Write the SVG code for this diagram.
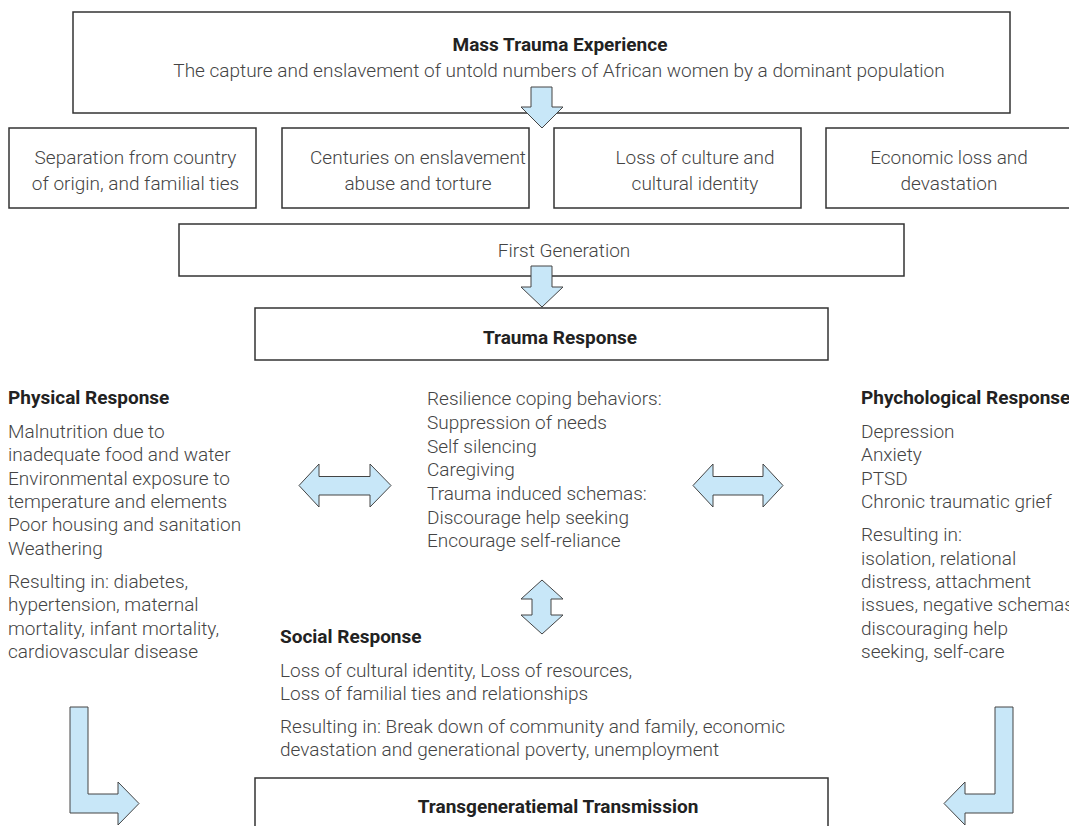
<svg xmlns="http://www.w3.org/2000/svg" width="1069" height="826" viewBox="0 0 1069 826">
<style>
.box{fill:#fff;stroke:#333;stroke-width:1.5}
.t{font-family:Roboto,"Liberation Sans",sans-serif;font-weight:300;font-size:19px;fill:#444}
.b{font-family:Roboto,"Liberation Sans",sans-serif;font-weight:700;font-size:19px;fill:#222}
.m{text-anchor:middle}
.arr{fill:#c8e7f8;stroke:#444;stroke-width:1}
</style>
<rect width="1069" height="826" fill="#fff"/>
<g id="mass-trauma">
<rect class="box" x="73" y="12" width="937" height="101"/>
<text class="b m" x="560" y="51">Mass Trauma Experience</text>
<text class="t m" x="559" y="77">The capture and enslavement of untold numbers of African women by a dominant population</text>
</g>
<g id="separation">
<rect class="box" x="9" y="128" width="247" height="80"/>
<text class="t m" x="135.5" y="164">Separation from country</text>
<text class="t m" x="135.5" y="190">of origin, and familial ties</text>
</g>
<g id="centuries">
<rect class="box" x="282" y="128" width="247" height="80"/>
<text class="t m" x="418" y="164">Centuries on enslavement</text>
<text class="t m" x="418" y="190">abuse and torture</text>
</g>
<g id="loss-culture">
<rect class="box" x="554" y="128" width="247" height="80"/>
<text class="t m" x="695" y="164">Loss of culture and</text>
<text class="t m" x="695" y="190">cultural identity</text>
</g>
<g id="economic">
<rect class="box" x="826" y="128" width="247" height="80"/>
<text class="t m" x="949" y="164">Economic loss and</text>
<text class="t m" x="949" y="190">devastation</text>
</g>
<g id="first-generation">
<rect class="box" x="179" y="224" width="725" height="52"/>
<text class="t m" x="564" y="257">First Generation</text>
</g>
<g id="trauma-response">
<rect class="box" x="255" y="308" width="573" height="52"/>
<text class="b m" x="560" y="344">Trauma Response</text>
</g>
<g id="physical-response">
<text class="b" x="8" y="404">Physical Response</text>
<text class="t" x="8" y="438">Malnutrition due to</text>
<text class="t" x="8" y="461">inadequate food and water</text>
<text class="t" x="8" y="484.5">Environmental exposure to</text>
<text class="t" x="8" y="508">temperature and elements</text>
<text class="t" x="8" y="531">Poor housing and sanitation</text>
<text class="t" x="8" y="554.5">Weathering</text>
<text class="t" x="8" y="588">Resulting in: diabetes,</text>
<text class="t" x="8" y="611">hypertension, maternal</text>
<text class="t" x="8" y="634.5">mortality, infant mortality,</text>
<text class="t" x="8" y="658">cardiovascular disease</text>
</g>
<g id="coping">
<text class="t" x="427" y="405">Resilience coping behaviors:</text>
<text class="t" x="427" y="429">Suppression of needs</text>
<text class="t" x="427" y="452.5">Self silencing</text>
<text class="t" x="427" y="476">Caregiving</text>
<text class="t" x="427" y="500">Trauma induced schemas:</text>
<text class="t" x="427" y="523.5">Discourage help seeking</text>
<text class="t" x="427" y="547">Encourage self-reliance</text>
</g>
<g id="psychological-response">
<text class="b" x="861" y="404">Phychological Response</text>
<text class="t" x="861" y="438">Depression</text>
<text class="t" x="861" y="461">Anxiety</text>
<text class="t" x="861" y="484.5">PTSD</text>
<text class="t" x="861" y="508">Chronic traumatic grief</text>
<text class="t" x="861" y="541">Resulting in:</text>
<text class="t" x="861" y="564.5">isolation, relational</text>
<text class="t" x="861" y="588">distress, attachment</text>
<text class="t" x="861" y="611">issues, negative schemas</text>
<text class="t" x="861" y="634.5">discouraging help</text>
<text class="t" x="861" y="658">seeking, self-care</text>
</g>
<g id="social-response">
<text class="b" x="280" y="643">Social Response</text>
<text class="t" x="280" y="677">Loss of cultural identity, Loss of resources,</text>
<text class="t" x="280" y="700">Loss of familial ties and relationships</text>
<text class="t" x="280" y="733">Resulting in: Break down of community and family, economic</text>
<text class="t" x="280" y="756">devastation and generational poverty, unemployment</text>
</g>
<g id="transgenerational">
<rect class="box" x="255" y="778" width="573" height="60"/>
<text class="b m" x="558" y="813">Transgeneratiemal Transmission</text>
</g>
<g id="connectors">
<path class="arr" d="M531,87 H552 V107 H563 L542,128 L521,107 H531 Z"/>
<path class="arr" d="M531,266 H552 V287 H563 L542,307 L521,287 H531 Z"/>
<path class="arr" d="M299,485.5 L319,464 V476.5 H370 V464 L391,485.5 L370,507 V495 H319 V507 Z"/>
<path class="arr" d="M693,485.5 L713,464 V476.5 H763 V464 L783,485.5 L763,507 V495 H713 V507 Z"/>
<path class="arr" d="M542,580 L563,599 H551 V615 H563 L542,634 L521,615 H532 V599 H521 Z"/>
<path class="arr" d="M70,707 H88 V794 H118 V782 L139,803.5 L118,825 V813 H70 Z"/>
<path class="arr" d="M1013,707 H995 V794 H965 V782 L944,803.5 L965,825 V813 H1013 Z"/>
</g>
</svg>
